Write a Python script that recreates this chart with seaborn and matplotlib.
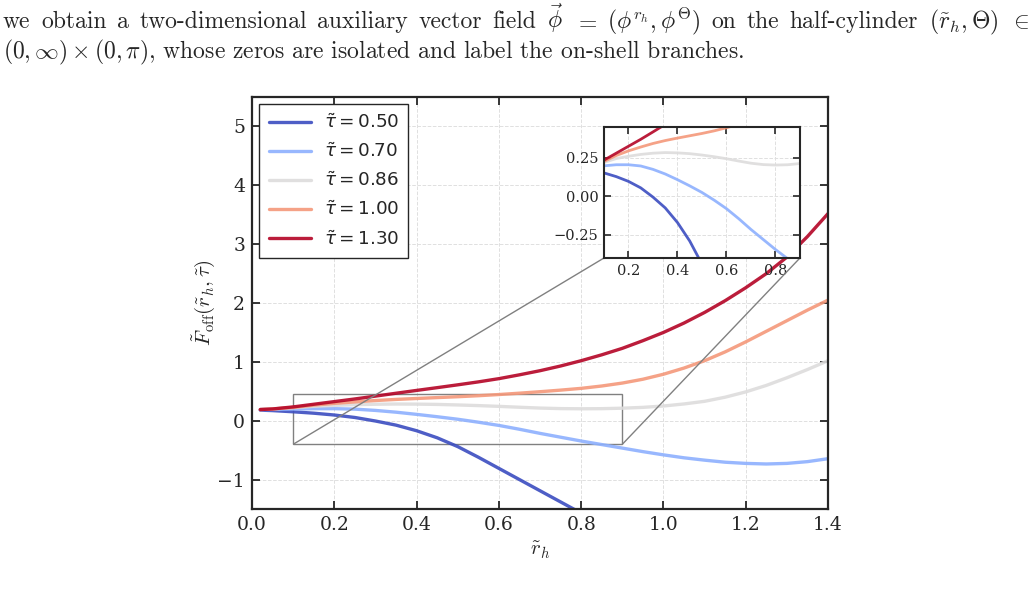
import numpy as np
import pandas as pd
import matplotlib
matplotlib.use("Agg")
import matplotlib.pyplot as plt
import seaborn as sns
from mpl_toolkits.axes_grid1.inset_locator import mark_inset

# ------------- Data -------------
r_h = [0.02, 0.05, 0.10, 0.15, 0.20, 0.25, 0.30, 0.35, 0.40, 0.45, 0.50,
       0.55, 0.60, 0.65, 0.70, 0.75, 0.80, 0.85, 0.90, 0.95, 1.00, 1.05,
       1.10, 1.15, 1.20, 1.25, 1.30, 1.35, 1.40]

F_tau050 = [0.18, 0.172, 0.152, 0.128, 0.097, 0.055, -0.005, -0.075, -0.17, -0.29,
            -0.44, -0.62, -0.81, -1.00, -1.19, -1.38, -1.57]
F_tau070 = [0.19, 0.192, 0.198, 0.205, 0.205, 0.197, 0.175, 0.145, 0.108, 0.068,
            0.025, -0.025, -0.08, -0.145, -0.215, -0.28, -0.345, -0.405, -0.465,
            -0.525, -0.58, -0.63, -0.67, -0.705, -0.725, -0.735, -0.725, -0.695,
            -0.645]
F_tau086 = [0.19, 0.20, 0.22, 0.245, 0.26, 0.272, 0.28, 0.284, 0.282, 0.277,
            0.268, 0.257, 0.244, 0.229, 0.215, 0.206, 0.203, 0.205, 0.213, 0.227,
            0.25, 0.285, 0.33, 0.40, 0.49, 0.60, 0.73, 0.87, 1.02]
F_tau100 = [0.19, 0.20, 0.226, 0.265, 0.295, 0.32, 0.343, 0.362, 0.378, 0.393,
            0.408, 0.425, 0.445, 0.468, 0.493, 0.52, 0.55, 0.59, 0.64, 0.705, 0.79,
            0.895, 1.02, 1.17, 1.34, 1.52, 1.70, 1.88, 2.05]
F_tau130 = [0.19, 0.20, 0.235, 0.28, 0.325, 0.37, 0.418, 0.467, 0.515, 0.562, 0.61,
            0.66, 0.715, 0.78, 0.85, 0.93, 1.02, 1.12, 1.23, 1.36, 1.50, 1.66,
            1.84, 2.04, 2.26, 2.50, 2.78, 3.13, 3.52]

tau_labels = ["0.50", "0.70", "0.86", "1.00", "1.30"]
series = [F_tau050, F_tau070, F_tau086, F_tau100, F_tau130]

rows = []
for lab, vals in zip(tau_labels, series):
    for x, y in zip(r_h[:len(vals)], vals):
        rows.append({"r": x, "F": y, "tau": r"$\tilde{\tau} = %s$" % lab})
df = pd.DataFrame(rows)

cmap = sns.color_palette("coolwarm", as_cmap=True)
colors = [cmap(v) for v in [0.0, 0.25, 0.5, 0.75, 1.0]]
palette = dict(zip(df["tau"].unique(), colors))

# ------------- Style -------------
sns.set_style("ticks")
plt.rcParams["font.family"] = ["serif"]
plt.rcParams["font.serif"] = ["DejaVu Serif"]
plt.rcParams["mathtext.fontset"] = "cm"

fig = plt.figure(figsize=(10.33, 5.89), dpi=100)

# ------------- Page text above the figure -------------
fs_text = 15
renderer = fig.canvas.get_renderer()

line2 = r"$(0,\infty)\times(0,\pi)$, whose zeros are isolated and label the on-shell branches."
t2 = fig.text(0.003, 1 - 58 / 589, line2, fontsize=fs_text, family="cmr10", va="baseline")
w2 = t2.get_window_extent(renderer).width
fs_text = fs_text * 742 / w2
t2.set_fontsize(fs_text)

words1 = ["we", "obtain", "a", "two-dimensional", "auxiliary", "vector", "field",
          r"$\vec{\phi}$", r"$=$", r"$(\phi^{r_h}, \phi^{\Theta})$", "on", "the",
          "half-cylinder", r"$(\tilde{r}_h, \Theta)$", r"$\in$"]
texts1 = [fig.text(0, 1 - 28 / 589, w, fontsize=fs_text, family="cmr10", va="baseline")
          for w in words1]
widths = [t.get_window_extent(renderer).width for t in texts1]
x0, x1 = 3.0, 1029.0
gap = (x1 - x0 - sum(widths)) / (len(words1) - 1)
pos = x0
for t, w in zip(texts1, widths):
    t.set_x(pos / 1033)
    pos += w + gap

# ------------- Main axes -------------
ax = fig.add_axes([0.244, 0.1358, 0.5576, 0.6995])
sns.lineplot(data=df, x="r", y="F", hue="tau", palette=palette, ax=ax,
             linewidth=2.4, alpha=0.9, sort=False, estimator=None)
ax.set_xlim(0, 1.4)
ax.set_ylim(-1.5, 5.5)
ax.set_xticks([0.0, 0.2, 0.4, 0.6, 0.8, 1.0, 1.2, 1.4])
ax.set_yticks([-1, 0, 1, 2, 3, 4, 5])
ax.grid(True, ls="--", color="0.88", lw=0.7)
ax.tick_params(direction="in", top=True, right=True, length=6, width=1.3,
               labelsize=13.5, pad=5)
for s in ax.spines.values():
    s.set_linewidth(1.6)
ax.set_xlabel(r"$\tilde{r}_h$", fontsize=15, labelpad=4)
ax.set_ylabel(r"$\tilde{F}_{\rm off}(\tilde{r}_h, \tilde{\tau})$", fontsize=15, labelpad=0)

sns.move_legend(ax, "upper left", title=None, frameon=True, fancybox=False,
                edgecolor="0.15", framealpha=1, fontsize=13.2, borderpad=0.5,
                labelspacing=0.58, handlelength=2.3, handletextpad=0.7,
                borderaxespad=0.4)
leg = ax.get_legend()
leg.get_frame().set_linewidth(1.0)
for t in leg.get_texts():
    t.set_math_fontfamily("dejavusans")

# ------------- Inset -------------
axins = fig.add_axes([0.5847, 0.562, 0.1897, 0.2224])
sns.lineplot(data=df, x="r", y="F", hue="tau", palette=palette, ax=axins,
             linewidth=2.0, alpha=0.9, sort=False, estimator=None, legend=False)
axins.set_xlim(0.1, 0.9)
axins.set_ylim(-0.4, 0.45)
axins.set_xticks([0.2, 0.4, 0.6, 0.8])
axins.set_yticks([-0.25, 0.0, 0.25])
axins.set_yticklabels(["\u22120.25", "0.00", "0.25"])
axins.set_xlabel("")
axins.set_ylabel("")
axins.grid(True, ls="--", color="0.88", lw=0.7)
axins.tick_params(direction="in", top=True, right=True, length=5, width=1.2,
                  labelsize=10.5, pad=4)
for s in axins.spines.values():
    s.set_linewidth(1.5)

mark_inset(ax, axins, loc1=3, loc2=4, fc="none", ec="0.5", lw=1.0)

fig.savefig("out.png", dpi=100, facecolor="white")
